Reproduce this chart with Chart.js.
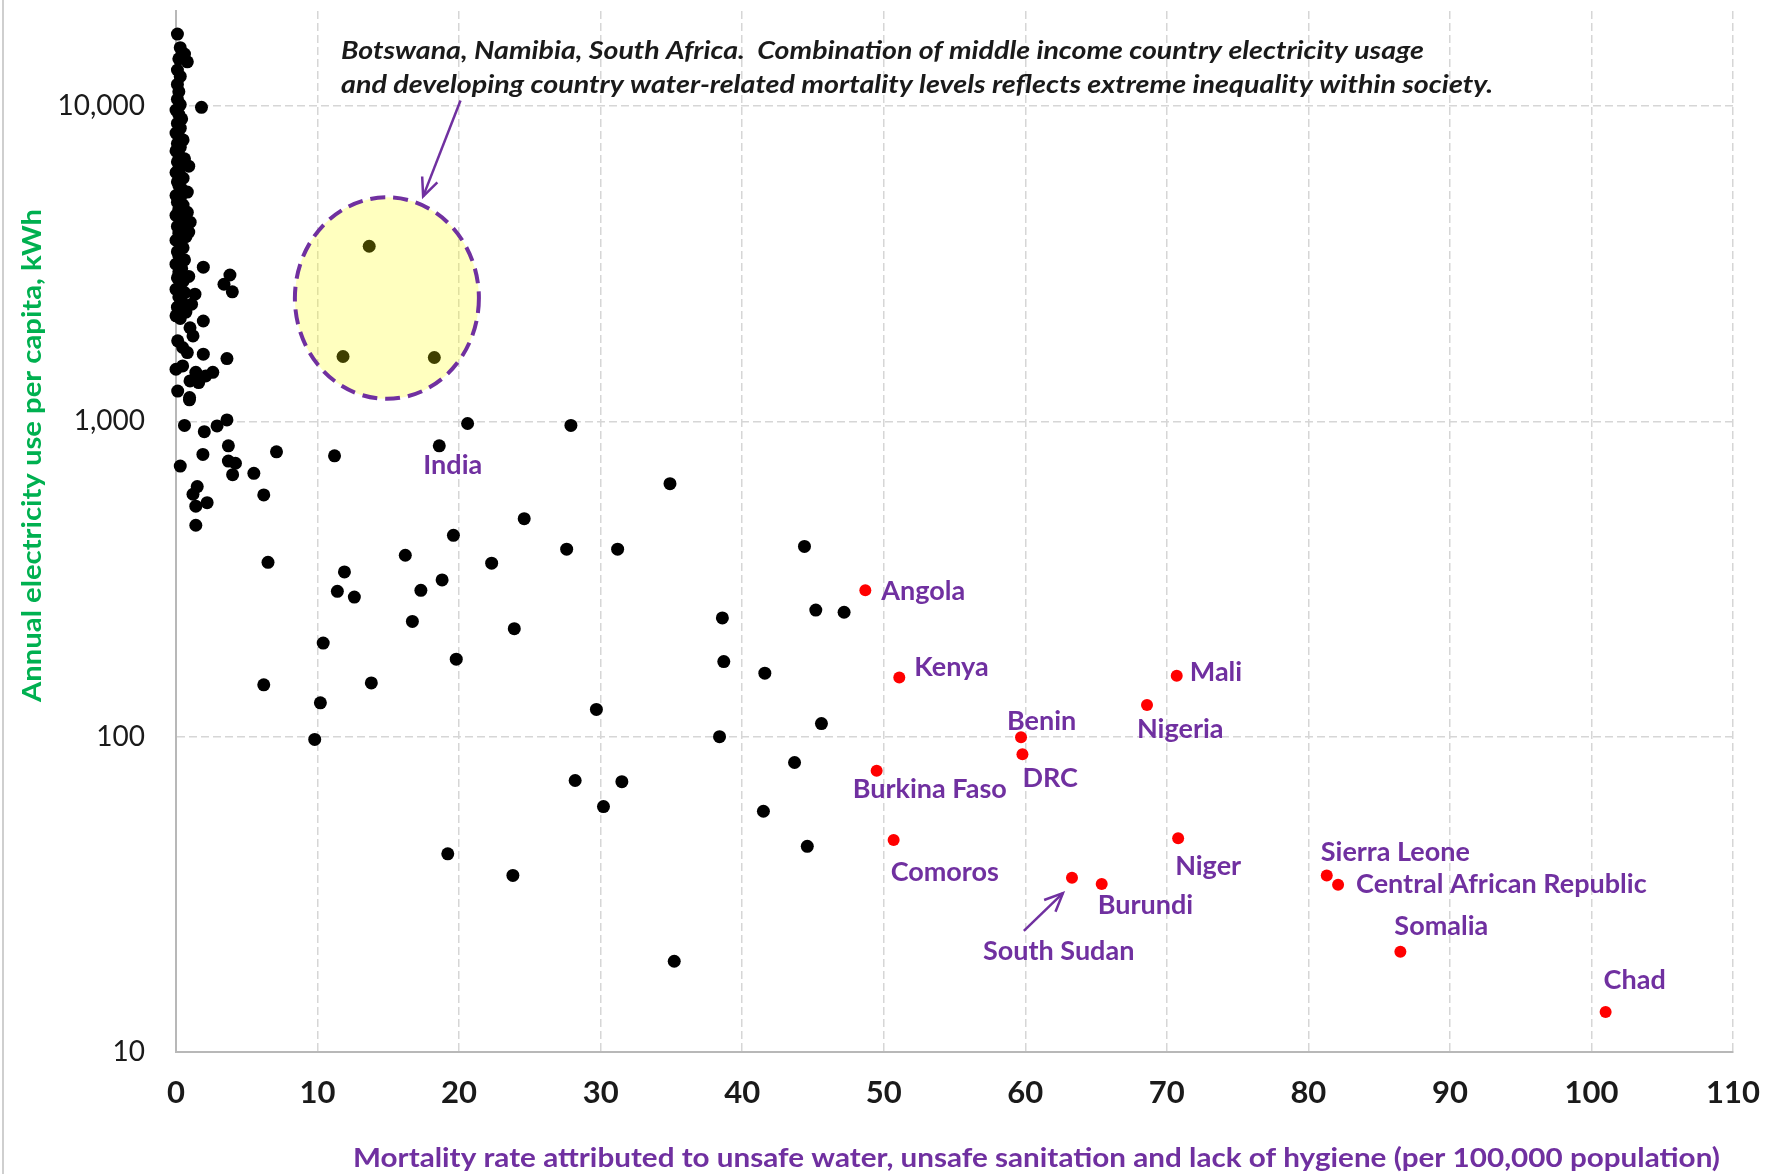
<!DOCTYPE html>
<html>
<head>
<meta charset="utf-8">
<script src="https://cdn.jsdelivr.net/npm/chart.js@4.4.1/dist/chart.umd.min.js"></script>
<style>
html,body{margin:0;padding:0;background:#fff;}
canvas{display:block;}
</style>
</head>
<body>
<canvas id="scatterCanvas" width="1770" height="1174"></canvas>
<script>
// mortality (per 100,000) vs electricity use (kWh per capita)
const yTickValues = [10, 100, 1000, 10000];

// the tall stack of rich countries near zero mortality
const lowMortality = [
  [0.1,16900],[0.3,15300],[0.6,14600],[0.8,13800],[0.2,14100],[0.1,13000],[0.3,12400],[0.1,11700],[0.2,11100],
  [0.1,10500],[0.3,10100],[0.0,9700],[0.2,9400],[0.4,9100],[0.1,8800],[0.3,8500],[0.0,8200],
  [0.2,8000],[0.5,7800],[0.1,7600],[0.3,7400],[0.0,7200],[0.2,7000],[0.6,6800],[0.1,6650],
  [0.4,6500],[0.9,6440],[0.2,6300],[0.0,6150],[0.3,6000],[0.5,5900],[0.1,5750],[0.2,5600],
  [0.4,5450],[0.8,5330],[0.0,5200],[0.3,5100],[0.1,4950],[0.5,4850],[0.2,4700],[0.8,4600],
  [0.0,4500],[0.3,4400],[0.6,4300],[1.0,4280],[0.1,4150],[0.4,4050],[0.9,3980],[0.2,3950],[0.7,3850],
  [0.0,3750],[0.3,3650],[0.5,3550],[0.1,3450],[0.2,3350],[0.6,3250],[0.0,3150],[0.4,3050],
  [0.2,2980],[0.9,2880],[0.1,2850],[0.5,2780],[0.3,2700],[0.0,2620],[0.6,2560],[0.2,2480],
  [0.4,2400],[0.1,2300],[0.7,2220],[0.3,2120]
];

// everything else in black
const otherCountries = [
  [1.8,9900],[13.65,3590],[11.8,1605],[18.25,1593],
  [1.93,3080],[3.81,2910],[3.39,2720],[3.98,2574],[1.34,2530],[1.1,2350],[1.93,2080],
  [0.0,2160],[0.99,1980],[1.2,1865],[0.12,1800],[0.47,1714],[0.8,1652],[1.93,1632],[3.6,1581],
  [0.0,1462],[0.47,1498],[1.4,1430],[2.1,1393],[2.6,1430],[0.99,1343],[1.6,1327],[0.12,1247],
  [0.96,1189],[0.95,1170],[0.6,970],[2.0,927],[2.9,967],[3.6,1010],[20.6,984],[27.9,970],
  [3.7,836],[1.9,785],[7.1,800],[11.2,777],[0.3,721],[3.7,748],[4.2,736],[4.0,677],
  [5.5,684],[6.2,584],[1.5,621],[1.2,587],[1.4,538],[2.2,552],[1.4,468],[6.5,357],
  [24.6,491],[19.6,435],[16.2,376],[22.3,355],[27.6,393],[11.9,333],[18.8,314],[11.4,289],
  [17.3,291],[12.6,277],[16.7,232],[23.9,220],[10.4,198],[19.8,176],[6.2,146],[13.8,148],
  [10.2,128],[9.8,98],[29.7,122],[28.2,72.6],[34.9,634],[31.2,393],[44.4,401],[45.2,252],
  [47.2,248],[38.6,238],[38.7,173],[41.6,159],[45.6,110],[38.4,100],[43.7,82.8],[31.5,72],
  [30.2,60],[41.5,58],[44.6,44.9],[19.2,42.5],[23.8,36.3],[35.2,19.4]
];
const india = [18.6, 836];

// labelled countries in red
const redNames = ['Angola','Kenya','Mali','Nigeria','Benin','DRC','Burkina Faso','Comoros','Niger',
  'South Sudan','Burundi','Sierra Leone','Central African Republic','Somalia','Chad'];
const redMortality = [48.7,51.1,70.7,68.6,59.7,59.8,49.5,50.7,70.8,63.3,65.4,81.3,82.1,86.5,101.0];
const redElectricity = [291,154,156,126,99.5,88,78,47,47.6,35.7,34.1,36.3,33.9,20.8,13.4];

// label placement, pixels from the dot (left edge, middle)
const labelOffsets = [[16,1],[15,-10],[13,-3],[-10,24],[-14,-16],[0,24],[-24,19],[-3,32],[-3,28],
  [-89,74],[-4,21],[-6,-23],[18,-1],[-6,-25],[-2,-32]];

// Botswana / Namibia / South Africa highlight, in data units
const ellipseBox = [8.4, 21.4, 5130, 1178];
const noteArrow = [20.1, 10400, 17.46, 5165];
const sudanArrow = [59.9, 24.2, 62.66, 31.9];
const noteLines = [
  'Botswana, Namibia, South Africa.  Combination of middle income country electricity usage',
  'and developing country water-related mortality levels reflects extreme inequality within society.'
];

const purple = '#7030A0';

function fitText(ctx, text, x, y, width) {
  const w = ctx.measureText(text).width;
  ctx.save();
  ctx.translate(x, y);
  ctx.scale(width / w, 1);
  ctx.fillText(text, 0, 0);
  ctx.restore();
}

function arrow(ctx, x1, y1, x2, y2) {
  ctx.beginPath();
  ctx.moveTo(x1, y1);
  ctx.lineTo(x2, y2);
  ctx.stroke();
  const a = Math.atan2(y2 - y1, x2 - x1), h = 20, w = 0.42;
  ctx.beginPath();
  ctx.moveTo(x2 - h * Math.cos(a - w), y2 - h * Math.sin(a - w));
  ctx.lineTo(x2, y2);
  ctx.lineTo(x2 - h * Math.cos(a + w), y2 - h * Math.sin(a + w));
  ctx.stroke();
}

const overlay = {
  id: 'overlay',
  afterDatasetsDraw(chart) {
    const ctx = chart.ctx;
    const x = chart.scales.x, y = chart.scales.y;

    // yellow ellipse over the three southern African dots
    const ex1 = x.getPixelForValue(ellipseBox[0]), ex2 = x.getPixelForValue(ellipseBox[1]);
    const ey1 = y.getPixelForValue(ellipseBox[2]), ey2 = y.getPixelForValue(ellipseBox[3]);
    ctx.save();
    ctx.beginPath();
    ctx.ellipse((ex1 + ex2) / 2, (ey1 + ey2) / 2, Math.abs(ex2 - ex1) / 2, Math.abs(ey2 - ey1) / 2, 0, 0, Math.PI * 2);
    ctx.fillStyle = 'rgba(255,255,0,0.25)';
    ctx.fill();
    ctx.setLineDash([15, 8]);
    ctx.lineWidth = 4;
    ctx.strokeStyle = purple;
    ctx.stroke();
    ctx.setLineDash([]);

    // arrows
    ctx.lineWidth = 2.5;
    arrow(ctx, x.getPixelForValue(noteArrow[0]), y.getPixelForValue(noteArrow[1]),
      x.getPixelForValue(noteArrow[2]), y.getPixelForValue(noteArrow[3]));
    arrow(ctx, x.getPixelForValue(sudanArrow[0]), y.getPixelForValue(sudanArrow[1]),
      x.getPixelForValue(sudanArrow[2]), y.getPixelForValue(sudanArrow[3]));

    // country labels
    ctx.fillStyle = purple;
    ctx.font = 'bold 27px Lato';
    ctx.textAlign = 'left';
    ctx.textBaseline = 'middle';
    const pts = chart.getDatasetMeta(1).data;
    redNames.forEach((name, i) => {
      ctx.fillText(name, pts[i].x + labelOffsets[i][0], pts[i].y + labelOffsets[i][1]);
    });
    ctx.fillText('India', x.getPixelForValue(india[0]) - 16, y.getPixelForValue(india[1]) + 19);

    // note text
    ctx.fillStyle = '#1a1a1a';
    ctx.font = 'italic bold 24px Lato';
    fitText(ctx, noteLines[0], 341, 51, 1083);
    fitText(ctx, noteLines[1], 341, 85, 1152);

    // axis titles
    ctx.font = 'bold 27px Lato';
    ctx.fillStyle = purple;
    fitText(ctx, 'Mortality rate attributed to unsafe water, unsafe sanitation and lack of hygiene (per 100,000 population)', 353, 1158, 1367);
    ctx.save();
    ctx.translate(32, 702);
    ctx.rotate(-Math.PI / 2);
    ctx.fillStyle = '#00B050';
    fitText(ctx, 'Annual electricity use per capita, kWh', 0, 0, 493);
    ctx.restore();

    // thin frame at the left edge
    ctx.strokeStyle = '#cfcfcf';
    ctx.lineWidth = 2;
    ctx.beginPath();
    ctx.moveTo(3, 0);
    ctx.lineTo(3, 1174);
    ctx.stroke();
    ctx.restore();
  }
};

const scatterCanvas = document.getElementById('scatterCanvas');
Chart.defaults.font.family = 'Lato';

const gridStyle = { color: '#d6d6d6', lineWidth: 1.5, drawTicks: false };
const borderStyle = { color: '#b8b8b8', width: 2, dash: [8, 4] };

new Chart(scatterCanvas, {
  type: 'scatter',
  data: {
    datasets: [
      {
        data: lowMortality.concat(otherCountries, [india]).map(p => ({ x: p[0], y: p[1] })),
        backgroundColor: '#000000',
        pointRadius: 6.5,
        borderWidth: 0,
        clip: false
      },
      {
        data: redMortality.map((v, i) => ({ x: v, y: redElectricity[i] })),
        backgroundColor: '#ff0000',
        pointRadius: 6,
        borderWidth: 0,
        clip: false
      }
    ]
  },
  options: {
    responsive: false,
    animation: false,
    layout: { padding: { top: 11, right: 37, left: 0, bottom: 0 } },
    plugins: { legend: { display: false }, tooltip: { enabled: false } },
    scales: {
      x: {
        type: 'linear',
        min: 0,
        max: 110,
        ticks: { stepSize: 10, padding: 22, color: '#1a1a1a', font: { size: 31, weight: 'bold' } },
        grid: gridStyle,
        border: borderStyle,
        afterFit(s) { s.height = 122; s.paddingLeft = 0; s.paddingRight = 0; }
      },
      y: {
        type: 'logarithmic',
        min: 10,
        max: 20000,
        afterBuildTicks(s) { s.ticks = yTickValues.map(v => ({ value: v })); },
        ticks: { padding: 31, color: '#1a1a1a', font: { size: 28 }, callback: v => v.toLocaleString('en-US') },
        grid: gridStyle,
        border: borderStyle,
        afterFit(s) { s.width = 176; s.paddingTop = 0; s.paddingBottom = 0; }
      }
    }
  },
  plugins: [overlay]
});
</script>
</body>
</html>
